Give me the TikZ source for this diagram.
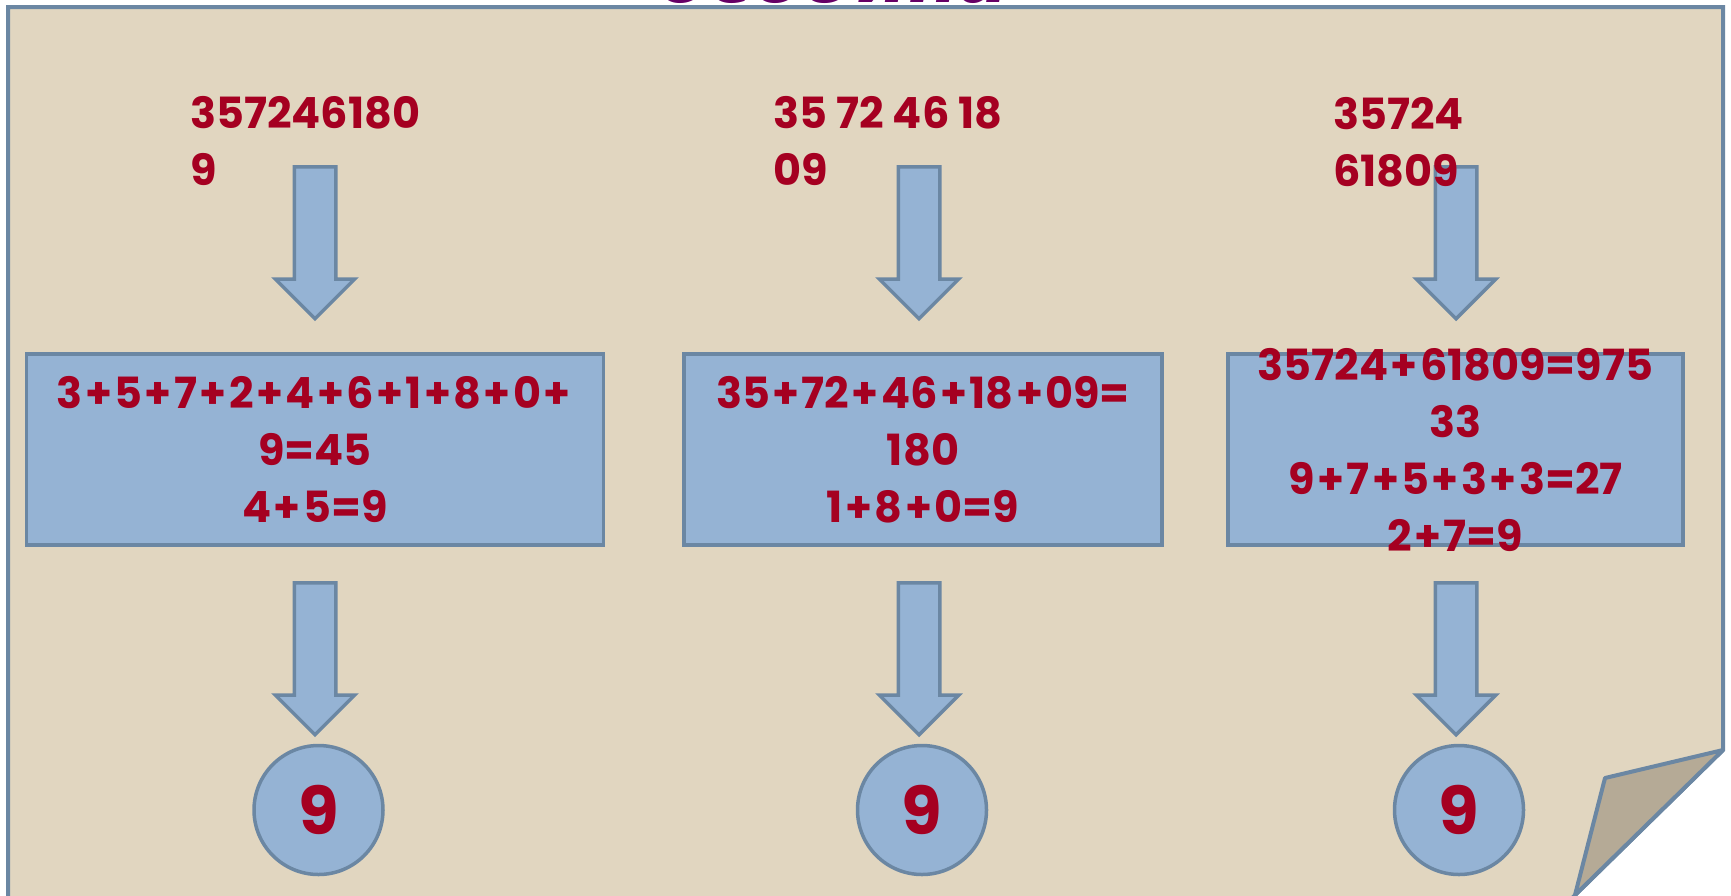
\documentclass[tikz,border=0pt]{standalone}
\usepackage{fontspec}
\usepackage{xcolor}
\usepackage{tikz}
\usetikzlibrary{positioning,shapes.arrows}
\newfontfamily\numfont{Poppins}
\newfontfamily\titlefont{DejaVu Sans}
\newcommand{\pl}{\kern2.4pt+\kern2.4pt}
\definecolor{linen}{HTML}{E1D6C0}
\definecolor{foldgray}{HTML}{B5AA96}
\definecolor{slateblue}{HTML}{6B87A3}
\definecolor{paleblue}{HTML}{95B3D4}
\definecolor{numred}{HTML}{A50021}
\definecolor{titleviolet}{HTML}{660066}
\tikzset{
  sumbox/.style={draw=slateblue, line width=3.5pt, fill=paleblue, minimum height=191pt, inner sep=0pt},
  sumtext/.style={text=numred, align=center, font=\numfont\bfseries\fontsize{43}{57}\selectfont},
  numtext/.style={text=numred, align=left, anchor=base west, inner sep=0pt, font=\numfont\bfseries\fontsize{43}{57}\selectfont},
  downarrow/.style={single arrow, draw=slateblue, line width=3.5pt, fill=paleblue, rotate=-90, anchor=tail,
    minimum height=152pt, inner xsep=0pt, inner ysep=19pt, single arrow head extend=19pt},
  result/.style={circle, draw=slateblue, line width=3.5pt, fill=paleblue, minimum size=129pt, inner sep=0pt,
    text=numred, font=\numfont\bfseries\fontsize{66}{70}\selectfont}
}
\begin{document}
\begin{tikzpicture}[x=1pt, y=-1pt]
    \useasboundingbox (0,0) rectangle (1731,895);
    \clip (0,0) rectangle (1731,895);
    % sheet with the folded corner
    \node[anchor=base, text=titleviolet, inner sep=0pt, font=\titlefont\bfseries\itshape\fontsize{74}{80}\selectfont] (title) at (834,2) {особина};
    \draw[fill=linen, draw=slateblue, line width=4pt] (8,905) -- (8,7) -- (1723,7) -- (1723,750) -- (1565,905) -- cycle;
    \draw[fill=foldgray, draw=slateblue, line width=4pt, line join=round] (1723,750) -- (1605,778) -- (1575,895) -- cycle;

    % arrows
    \node[downarrow] (inA) at (315,165) {};
    \node[downarrow] (inB) at (919,165) {};
    \node[downarrow] (inC) at (1456,165) {};
    \node[downarrow] (outA) at (315,581) {};
    \node[downarrow] (outB) at (919,581) {};
    \node[downarrow] (outC) at (1456,581) {};

    % numbers
    \node[numtext] (numA) at (190,185) {357246180\\9};
    \node[numtext] (numB) at (773,185) {35 72 46 18\\09};
    \node[numtext] (numC) at (1333,186) {35724\\61809};

    % sums
    \node[sumbox, minimum width=577pt] (sumA) at (315,449.5) {};
    \node[sumbox, minimum width=478pt] (sumB) at (923,449.5) {};
    \node[sumbox, minimum width=455pt] (sumC) at (1455.5,449.5) {};
    \node[sumtext] (textA) at (sumA.center) {3\pl5\pl7\pl2\pl4\pl6\pl1\pl8\pl0\pl\\9=45\\4\pl5=9};
    \node[sumtext] (textB) at (sumB.center) {35\pl72\pl46\pl18\pl09=\\180\\1\pl8\pl0=9};
    \node[sumtext] (textC) at (sumC.center) {35724\pl61809=975\\33\\9\pl7\pl5\pl3\pl3=27\\2\pl7=9};

    % results
    \node[result] (resA) at (318.5,810) {9};
    \node[result] (resB) at (922,810) {9};
    \node[result] (resC) at (1459,810) {9};
\end{tikzpicture}
\end{document}
